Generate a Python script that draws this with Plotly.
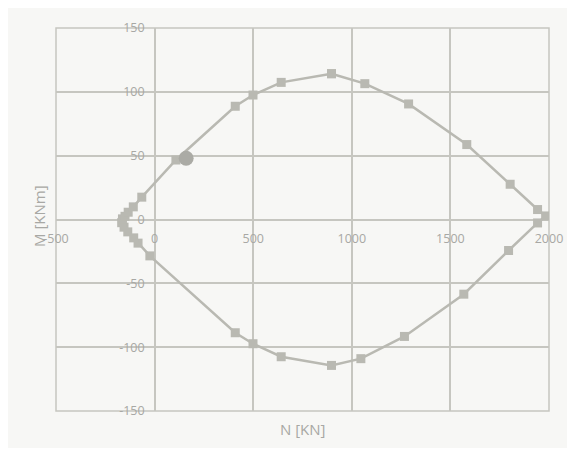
import plotly.graph_objects as go

# Interaction diagram (N [KN], M [KNm])
n_vals = [897, 1066, 1288, 1583, 1803, 1942, 1983, 1942, 1795, 1568, 1267, 1046,
          897, 642, 499, 409, -24, -84, -106, -136, -155, -167, -163, -150,
          -134, -108, -65, 108, 409, 499, 642, 897]
m_vals = [114.2, 106.4, 90.5, 58.7, 27.6, 7.8, 2.8, -2.7, -24.3, -58.5, -91.6, -109.0,
          -114.3, -107.5, -97.3, -88.7, -28.5, -18.5, -14.4, -9.7, -6.0, -2.5, 0.5, 2.5,
          5.7, 9.9, 17.5, 46.6, 88.7, 97.5, 107.4, 114.2]

point_n = [160]
point_m = [48]

x_ticks = [-500, 0, 500, 1000, 1500, 2000]
y_ticks = [-150, -100, -50, 0, 50, 100, 150]

line_col = "#b9b9b2"
grid_col = "#c6c6c0"
text_col = "#a8a8a4"
font_family = "Open Sans, Noto Sans, sans-serif"

fig = go.Figure()
fig.add_trace(go.Scatter(
    x=n_vals, y=m_vals, mode="lines+markers",
    line=dict(color=line_col, width=2.5),
    marker=dict(symbol="square", size=9, color=line_col),
    hoverinfo="x+y", showlegend=False))
fig.add_trace(go.Scatter(
    x=point_n, y=point_m, mode="markers",
    marker=dict(symbol="circle", size=15, color="#ababa5"),
    showlegend=False))

fig.update_layout(
    width=575, height=440,
    margin=dict(l=48, r=34, t=20, b=37),
    paper_bgcolor="#f7f7f5",
    plot_bgcolor="#f7f7f5",
    font=dict(family=font_family, size=12, color=text_col),
    xaxis=dict(range=[-500, 2000], tickvals=x_ticks, ticktext=[str(v) for v in x_ticks],
               showgrid=True, gridcolor=grid_col, gridwidth=1.5, zeroline=False,
               showline=False, ticks="", anchor="free", position=0.5,
               ticklabelstandoff=10,
               tickfont=dict(size=12.5, color=text_col)),
    yaxis=dict(range=[-150, 150], tickvals=y_ticks, ticktext=[str(v) for v in y_ticks],
               showgrid=True, gridcolor=grid_col, gridwidth=1.5, zeroline=False,
               showline=False, ticks="", anchor="free", position=0.2,
               ticklabelstandoff=10,
               tickfont=dict(size=12.5, color=text_col)),
    shapes=[
        dict(type="rect", xref="paper", yref="paper", x0=0, x1=1, y0=0, y1=1,
             line=dict(color=grid_col, width=1.5), layer="below"),
    ],
    annotations=[
        dict(text="N [KN]", xref="paper", yref="paper", x=0.5, y=0, yanchor="top",
             yshift=-6, showarrow=False, font=dict(size=15, color=text_col)),
        dict(text="M [KNm]", xref="paper", yref="paper", x=-0.036, y=0.51, textangle=-90,
             xanchor="center", yanchor="middle",
             showarrow=False, font=dict(size=15, color=text_col)),
    ],
)

fig.write_html("out.html")
